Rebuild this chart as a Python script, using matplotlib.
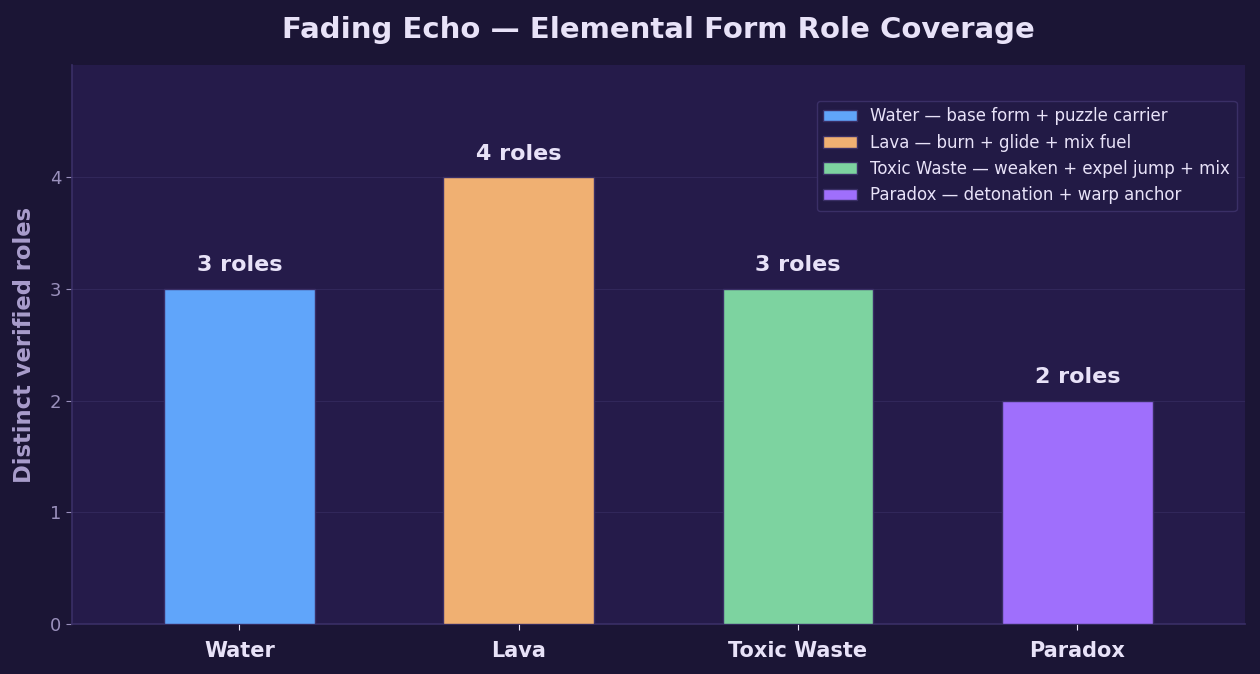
import matplotlib
matplotlib.use("Agg")
import matplotlib.pyplot as plt

plt.rcParams["font.family"] = ["DejaVu Sans"]

# --- data ---
forms = ["Water", "Lava", "Toxic Waste", "Paradox"]
roles = [3, 4, 3, 2]
legend_labels = [
    "Water — base form + puzzle carrier",
    "Lava — burn + glide + mix fuel",
    "Toxic Waste — weaken + expel jump + mix",
    "Paradox — detonation + warp anchor",
]
colors = ["#60a5fa", "#f0b072", "#7dd3a0", "#9f6ffc"]

fig_bg = "#1b1535"
ax_bg = "#251b4a"
grid_c = "#31275a"
spine_c = "#3a2f66"
text_c = "#e8e2f8"
muted_c = "#9a90bc"

fig, ax = plt.subplots(figsize=(12.6, 6.74), dpi=100)
fig.patch.set_facecolor(fig_bg)
ax.set_facecolor(ax_bg)

x = list(range(len(forms)))
ax.bar(x, roles, width=0.54, color=colors, edgecolor=spine_c,
       linewidth=1, label=legend_labels, zorder=3)

# value labels above each bar
for xi, v in zip(x, roles):
    ax.text(xi, v + 0.12, f"{v} roles", ha="center", va="bottom",
            fontsize=16, fontweight="bold", color=text_c, zorder=4)

ax.set_xlim(-0.6, 3.6)
ax.set_ylim(0, 5)
ax.set_yticks([0, 1, 2, 3, 4])
ax.set_xticks(x)
ax.set_xticklabels(forms, fontsize=15, fontweight="bold", color=text_c)
ax.tick_params(axis="x", colors=text_c, length=4, pad=8)
ax.tick_params(axis="y", colors=muted_c, labelsize=13, length=4)
for lab in ax.get_xticklabels():
    lab.set_color(text_c)

ax.yaxis.grid(True, color=grid_c, linewidth=0.8, zorder=0)
ax.set_axisbelow(True)
for side in ["top", "right"]:
    ax.spines[side].set_visible(False)
for side in ["left", "bottom"]:
    ax.spines[side].set_color(spine_c)
    ax.spines[side].set_linewidth(1.2)

ax.set_ylabel("Distinct verified roles", fontsize=16.3, fontweight="bold",
              color="#a99dcc", labelpad=10)
ax.set_title("Fading Echo — Elemental Form Role Coverage", fontsize=21,
             fontweight="bold", color=text_c, pad=20)

leg = ax.legend(loc="upper right", fontsize=12, frameon=True,
                facecolor="#221a45", edgecolor=spine_c, labelcolor=text_c,
                bbox_to_anchor=(0.993, 0.937), borderaxespad=0,
                labelspacing=0.5)
leg.get_frame().set_alpha(1)

plt.subplots_adjust(left=0.057, right=0.988, top=0.903, bottom=0.074)
plt.savefig("out.png", dpi=100, facecolor=fig_bg)
